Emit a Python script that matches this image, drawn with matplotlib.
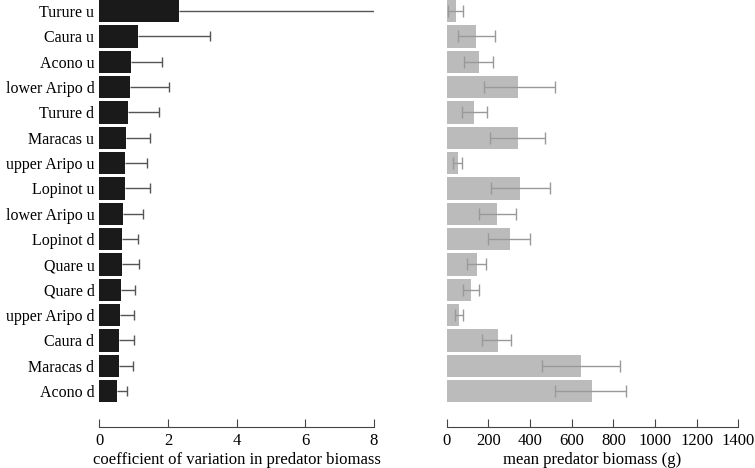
import matplotlib
matplotlib.use("Agg")
import matplotlib.pyplot as plt
import numpy as np

plt.rcParams['font.family'] = ['Liberation Serif', 'DejaVu Serif']
plt.rcParams['font.size'] = 12

# sites, top to bottom
sites = ['Turure u', 'Caura u', 'Acono u', 'lower Aripo d', 'Turure d',
         'Maracas u', 'upper Aripo u', 'Lopinot u', 'lower Aripo u',
         'Lopinot d', 'Quare u', 'Quare d', 'upper Aripo d', 'Caura d',
         'Maracas d', 'Acono d']

# coefficient of variation and upper error
cv = [2.32, 1.12, 0.91, 0.89, 0.85, 0.78, 0.76, 0.74, 0.70, 0.67,
      0.66, 0.63, 0.59, 0.57, 0.56, 0.52]
cv_err = [6.5, 2.10, 0.91, 1.14, 0.88, 0.69, 0.62, 0.73, 0.56, 0.46,
          0.51, 0.42, 0.41, 0.44, 0.41, 0.30]

# mean biomass (g) with lower / upper interval limits
biomass = [45, 142, 155, 344, 133, 344, 54, 353, 243, 305,
           145, 117, 61, 245, 643, 696]
bio_lo = [5, 53, 85, 178, 75, 208, 32, 214, 157, 200,
          97, 80, 41, 168, 456, 518]
bio_hi = [80, 230, 222, 518, 192, 470, 73, 496, 331, 400,
          190, 154, 77, 309, 830, 862]

y = np.arange(len(sites))
W, H = 755, 468
fig = plt.figure(figsize=(W / 100, H / 100), dpi=100)

bottom = 1 - 403.7 / H
height = 403.7 / H
ax1 = fig.add_axes([99.3 / W, bottom, (374 - 99.3) / W, height])
ax2 = fig.add_axes([446.7 / W, bottom, (738.3 - 446.7) / W, height])

# left panel: one-sided error bars
ax1.barh(y, cv, height=0.88, color='#1a1a1a', zorder=3)
cv_top = np.array(cv) + np.array(cv_err)
ax1.hlines(y, cv, cv_top, color='#555555', lw=1, zorder=2)
ax1.scatter(cv_top, y, marker='|', s=60, color='#555555', lw=1, zorder=2)
ax1.set_xlim(0, 8)
ax1.set_xticks([0, 2, 4, 6, 8])
ax1.set_yticks(y)
ax1.set_yticklabels(sites, fontsize=11.5)
ax1.set_xlabel('coefficient of variation in predator biomass', labelpad=2)

# right panel
lo = np.array(biomass) - np.array(bio_lo)
hi = np.array(bio_hi) - np.array(biomass)
ax2.barh(y, biomass, height=0.88, color='#bbbbbb')
ax2.errorbar(biomass, y, xerr=[lo, hi], fmt='none',
             ecolor='#999999', elinewidth=1, capsize=4, capthick=1)
ax2.set_xlim(0, 1400)
ax2.set_xticks(np.arange(0, 1401, 200))
ax2.set_yticks([])
ax2.set_xlabel('mean predator biomass (g)', labelpad=2)

for ax in (ax1, ax2):
    ax.set_ylim(15.5, -0.435)
    for s in ('top', 'right', 'left'):
        ax.spines[s].set_visible(False)
    ax.spines['bottom'].set_position(('outward', 17))
    ax.spines['bottom'].set_color('#444444')
    ax.tick_params(axis='x', direction='in', length=6, color='#444444', pad=4)
    ax.tick_params(axis='y', length=0, pad=3.5)

fig.savefig('out.png', dpi=100)
